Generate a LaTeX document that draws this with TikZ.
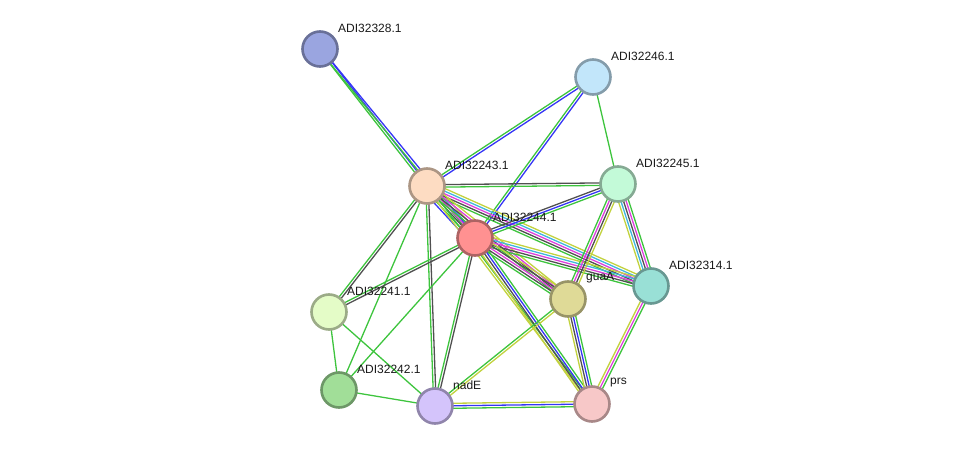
\documentclass[tikz,border=0pt]{standalone}
\usepackage{fontspec}
\setmainfont{Liberation Sans}
\usetikzlibrary{calc, backgrounds}
\definecolor{egreen}{HTML}{3DC43D}
\definecolor{eblue}{HTML}{3535F5}
\definecolor{egrey}{HTML}{505050}
\definecolor{emag}{HTML}{DD3FDD}
\definecolor{ecyan}{HTML}{3FB6DD}
\definecolor{eyel}{HTML}{C2D23E}
\definecolor{c328}{HTML}{9AA5E0}
\definecolor{c246}{HTML}{C2E6FA}
\definecolor{c245}{HTML}{C3FAD8}
\definecolor{c243}{HTML}{FDDCC2}
\definecolor{c244}{HTML}{FF9191}
\definecolor{c314}{HTML}{99E0D6}
\definecolor{cguaA}{HTML}{DFDA97}
\definecolor{c241}{HTML}{E4FCC7}
\definecolor{c242}{HTML}{A1DE98}
\definecolor{cnadE}{HTML}{D4C4FB}
\definecolor{cprs}{HTML}{F7C8C8}
\tikzset{
  prot/.style={circle, draw=#1!68!black, fill=#1, line width=2.6pt, minimum size=35pt, inner sep=0pt},
  lbl/.style={anchor=west, inner sep=0pt, font=\fontsize{12}{14}\selectfont, text=black!90},
  evid/.style={line width=1.3pt, color=#1},
}

\begin{document}
\begin{tikzpicture}[x=1pt, y=-1pt]
  \useasboundingbox (0,0) rectangle (975,452);
  \newcommand{\link}[3]{% from, to, list of evidence colours
    \foreach \col [count=\k] in {#3} {\xdef\nlines{\k}}
    \foreach \col [count=\k] in {#3} {
      \pgfmathsetmacro{\off}{(\k-(\nlines+1)/2)*2.5}
      \draw[evid=\col] ($(#1)!\off pt!90:(#2)$) -- ($(#2)!\off pt!-90:(#1)$);
    }
  }
  \foreach \id/\px/\py/\fc/\txt in {
      n328/320/49/c328/ADI32328.1, n246/593/77/c246/ADI32246.1,
      n245/618/184/c245/ADI32245.1, n243/427/186/c243/ADI32243.1,
      n244/475/238/c244/ADI32244.1, n314/651/286/c314/ADI32314.1,
      guaA/568/299/cguaA/guaA, n241/329/312/c241/ADI32241.1,
      n242/339/390/c242/ADI32242.1, nadE/435/406/cnadE/nadE,
      prs/592/404/cprs/prs} {
    \node[prot=\fc] (\id) at (\px,\py) {};
    \node[lbl] (\id-l) at (\px+18,\py-21) {\txt};
  }
  \begin{pgfonlayer}{background}
    \link{n328}{n243}{egreen,eblue}
    \link{n328}{n244}{egreen,eblue}
    \link{n246}{n243}{egreen,eblue}
    \link{n246}{n244}{egreen,eblue}
    \link{n246}{n245}{egreen}
    \link{n243}{n245}{egreen,egrey}
    \link{n243}{n244}{eblue,egreen,egrey,emag,ecyan,eyel}
    \link{n243}{n314}{egreen,egrey,emag,ecyan,eyel}
    \link{n243}{guaA}{egreen,egrey,emag,eyel}
    \link{n243}{prs}{eyel,egreen}
    \link{n243}{nadE}{egreen,egrey}
    \link{n243}{n241}{egreen,egrey}
    \link{n243}{n242}{egreen}
    \link{n244}{n245}{egreen,eblue,egrey}
    \link{n244}{n314}{egreen,egrey,emag,ecyan,eyel}
    \link{n244}{guaA}{egreen,egrey,emag,egrey,eyel}
    \link{n244}{prs}{eyel,egrey,eblue,egreen}
    \link{n244}{nadE}{egreen,egrey}
    \link{n244}{n241}{egreen,egrey}
    \link{n244}{n242}{egreen}
    \link{n245}{guaA}{egreen,emag,egrey,eyel}
    \link{n245}{n314}{eyel,ecyan,egrey,emag,egreen}
    \link{n314}{prs}{eyel,emag,egreen}
    \link{guaA}{prs}{eyel,egrey,eblue,egreen}
    \link{guaA}{nadE}{egreen,eyel}
    \link{nadE}{prs}{egreen,eblue,eyel}
    \link{n241}{n242}{egreen}
    \link{n241}{nadE}{egreen}
    \link{n242}{nadE}{egreen}
  \end{pgfonlayer}
\end{tikzpicture}
\end{document}
